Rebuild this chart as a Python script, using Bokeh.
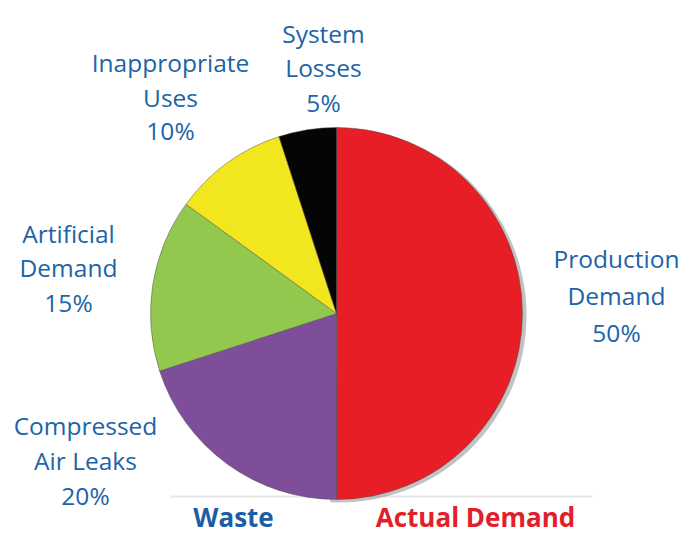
import numpy as np
from bokeh.plotting import figure
from bokeh.models import Range1d, ColumnDataSource
from bokeh.core.properties import value
from bokeh.embed import file_html
from bokeh.resources import INLINE

# ---- data ----
categories = ["Production Demand", "Compressed Air Leaks", "Artificial Demand",
              "Inappropriate Uses", "System Losses"]
label_lines = [["Production", "Demand"], ["Compressed", "Air Leaks"], ["Artificial", "Demand"],
               ["Inappropriate", "Uses"], ["System", "Losses"]]
shares = [50, 20, 15, 10, 5]
colors = ["#E81E27", "#7E4E9B", "#93C84E", "#F2E61E", "#050505"]
group_labels = ["Waste", "Actual Demand"]
group_colors = ["#1B5EA6", "#E3202A"]

W, H = 685, 535
p = figure(width=W, height=H, output_backend="svg", toolbar_location=None,
           x_range=Range1d(0, W), y_range=Range1d(0, H), min_border=0,
           x_axis_location=None, y_axis_location=None)
p.grid.visible = False
p.outline_line_color = None
p.background_fill_color = "white"

cx, cy, r = 336, 222, 186

# wedge angles: start at top, clockwise
vals = np.array(shares, dtype=float)
frac = vals / vals.sum()
cum = np.concatenate([[0], np.cumsum(frac)])
start = np.pi / 2 - 2 * np.pi * cum[:-1]
end = np.pi / 2 - 2 * np.pi * cum[1:]

src = ColumnDataSource(dict(start=start, end=end, color=colors, cat=categories))

# faint baseline and shadow
p.segment(x0=[170], y0=[39], x1=[592], y1=[39], line_color="#d8d8d8", line_width=2, line_alpha=0.6)
p.wedge(x=cx + 3, y=cy - 2, radius=r + 1, start_angle=-np.pi / 2 - 0.05, end_angle=np.pi / 2 + 0.05,
        direction="anticlock", fill_color="#777777", fill_alpha=0.45, line_color=None)
p.wedge(x=cx, y=cy, radius=r, start_angle="start", end_angle="end", direction="clock",
        fill_color="color", line_color="#4a4a4a", line_alpha=0.45, line_width=1, source=src)

# labels
font = value("Open Sans")
blue = "#2063A8"
label_pos = {
    "Production Demand": (616, [277, 240, 203]),
    "Compressed Air Leaks": (85, [110, 75, 40]),
    "Artificial Demand": (68, [302, 268, 233]),
    "Inappropriate Uses": (170, [473, 438, 405]),
    "System Losses": (323, [502, 468, 433]),
}
xs, ys, ts = [], [], []
for cat, lines, v in zip(categories, label_lines, shares):
    lx, lys = label_pos[cat]
    for t, ly in zip(lines + [f"{v}%"], lys):
        xs.append(lx); ys.append(ly); ts.append(t)
p.text(x=xs, y=ys, text=ts, text_font=font, text_font_size="24.5px", text_color=blue,
       text_align="center", text_baseline="alphabetic")

p.text(x=[233, 475], y=[19, 19], text=group_labels, text_font=font, text_font_size="26px",
       text_font_style="bold", text_color=group_colors, text_align="center",
       text_baseline="middle")

open("out.html", "w").write(file_html(p, INLINE))
